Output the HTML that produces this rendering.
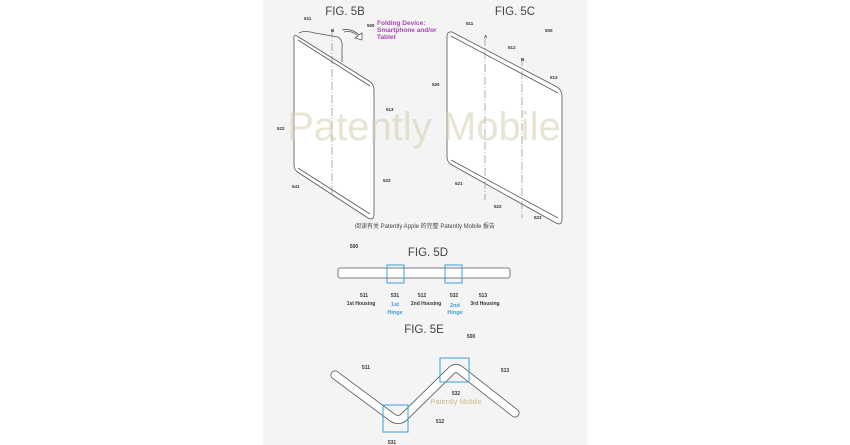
<!DOCTYPE html>
<html><head><meta charset="utf-8"><style>
html,body{margin:0;padding:0;background:#fff;width:850px;height:445px;overflow:hidden}
svg{display:block}
text{font-family:"Liberation Sans","Noto Sans CJK SC",sans-serif}
</style></head><body>
<svg width="850" height="445" viewBox="0 0 850 445">
<rect x="263" y="0" width="324" height="445" fill="#f4f4f4"/>
<!-- titles -->
<g fill="#444" font-size="11.5" text-anchor="middle">
<text x="345" y="15">FIG. 5B</text>
<text x="515" y="15">FIG. 5C</text>
<text x="428" y="256">FIG. 5D</text>
<text x="424" y="333">FIG. 5E</text>
</g>
<g fill="#a845b5" font-size="6.5" font-weight="bold">
<text x="377" y="25">Folding Device:</text>
<text x="377" y="32">Smartphone and/or</text>
<text x="377" y="39">Tablet</text>
</g>
<!-- 5B device -->
<g fill="none" stroke="#555" stroke-width="0.8">
<path d="M299,33 Q304,30 315,33 L338,37 Q343,40 342,48 L342,62"/>
<path d="M297,36 Q293,34 294,40 L294,165 Q294,170 299,173 L368,218 Q374,221 374,214 L374,90 Q374,84 369,81 Z" fill="#fff"/>
<path d="M298,40 L370,86 M298,168 L370,214"/>
<path d="M344,32 Q352,30 358,36 L355,38 L362,40 L362,33 L359,35 Q352,28 342,30" fill="#fff"/>
</g>
<line x1="332" y1="30" x2="332" y2="195" stroke="#777" stroke-width="0.6" stroke-dasharray="8,2,1,2"/>
<!-- 5C device -->
<g fill="none" stroke="#555" stroke-width="0.8">
<path d="M452,32 Q447,31 447,37 L447,157 Q447,162 452,165 L556,223 Q562,226 562,219 L562,96 Q562,90 557,87 Z" fill="#fff"/>
<path d="M451,36 L558,93 M451,160 L558,218"/>
</g>
<line x1="485" y1="38" x2="485" y2="200" stroke="#777" stroke-width="0.6" stroke-dasharray="8,2,1,2"/>
<line x1="522" y1="58" x2="522" y2="218" stroke="#777" stroke-width="0.6" stroke-dasharray="8,2,1,2"/>
<!-- small ref numbers -->
<g fill="#333" font-size="4.5" font-weight="bold">
<text x="304" y="20">511</text><text x="331" y="32">B</text><text x="367" y="27">500</text>
<text x="386" y="111">513</text><text x="277" y="130">522</text><text x="292" y="188">541</text><text x="383" y="182">523</text>
<text x="466" y="25">511</text><text x="484" y="38">A</text><text x="508" y="49">512</text><text x="521" y="61">B</text>
<text x="545" y="32">500</text><text x="550" y="79">513</text><text x="432" y="86">520</text><text x="455" y="185">521</text>
<text x="494" y="208">522</text><text x="534" y="219">523</text>
</g>
<text x="425" y="228" font-size="6" fill="#444" text-anchor="middle">阅读有关 Patently Apple 的完整 Patently Mobile 报告</text>
<text x="424" y="140" font-size="40" fill="#d6ceb0" fill-opacity="0.55" text-anchor="middle">Patently Mobile</text>
<!-- 5D -->
<rect x="338" y="268" width="172" height="10" rx="2" fill="#fff" stroke="#555" stroke-width="0.8"/>
<rect x="387" y="265" width="17" height="18" fill="none" stroke="#3aa0d8" stroke-width="1"/>
<rect x="445" y="265" width="17" height="18" fill="none" stroke="#3aa0d8" stroke-width="1"/>
<g fill="#333" font-size="5" font-weight="bold" text-anchor="middle">
<text x="354" y="248">500</text>
<text x="364" y="297">511</text><text x="395" y="297">531</text><text x="422" y="297">512</text><text x="454" y="297">532</text><text x="483" y="297">513</text>
<text x="361" y="305">1st Housing</text><text x="426" y="305">2nd Housing</text><text x="485" y="305">3rd Housing</text>
</g>
<g fill="#3aa0d8" font-size="5.5" font-weight="bold" text-anchor="middle">
<text x="395" y="306">1st</text><text x="395" y="314">Hinge</text>
<text x="455" y="307">2nd</text><text x="455" y="314">Hinge</text>
</g>
<!-- 5E -->
<path d="M335,375 L393,418 Q398,421 403,418 L452,370 Q456,367 460,370 L515,413" fill="none" stroke="#555" stroke-width="9" stroke-linecap="round" stroke-linejoin="round"/>
<path d="M335,375 L393,418 Q398,421 403,418 L452,370 Q456,367 460,370 L515,413" fill="none" stroke="#fff" stroke-width="7.4" stroke-linecap="round" stroke-linejoin="round"/>
<rect x="383" y="405" width="25" height="27" fill="none" stroke="#3aa0d8" stroke-width="1"/>
<rect x="440" y="358" width="29" height="24" fill="none" stroke="#3aa0d8" stroke-width="1"/>
<g fill="#333" font-size="5" font-weight="bold" text-anchor="middle">
<text x="366" y="369">511</text><text x="505" y="372">513</text><text x="471" y="338">500</text>
<text x="456" y="395">532</text><text x="440" y="423">512</text><text x="392" y="444">531</text>
</g>
<text x="456" y="404" font-size="7.5" fill="#c8bb8a" text-anchor="middle">Patently Mobile</text>
</svg>
</body></html>
